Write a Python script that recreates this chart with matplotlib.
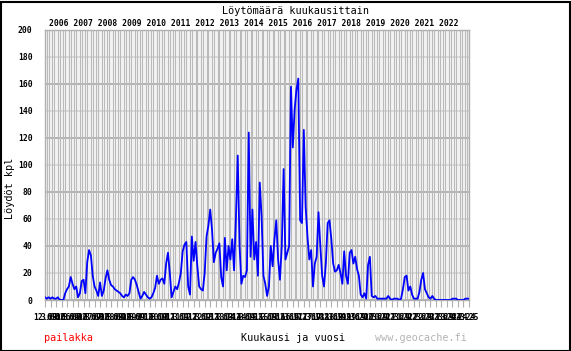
import numpy as np
import matplotlib
matplotlib.use("Agg")
import matplotlib.pyplot as plt
from matplotlib.patches import Rectangle

# monthly finds, Dec 2005 .. Mar 2025
values = [2,
    1, 2, 1, 2, 1, 1, 2, 0, 0, 0, 5, 8,            # 2006
    10, 17, 12, 8, 10, 2, 5, 14, 15, 5, 28, 37,    # 2007
    33, 18, 10, 7, 3, 13, 3, 7, 16, 22, 15, 11,    # 2008
    10, 8, 7, 6, 5, 3, 2, 4, 3, 5, 15, 17,         # 2009
    15, 11, 6, 1, 3, 6, 4, 2, 1, 2, 5, 9,          # 2010
    18, 12, 15, 16, 12, 27, 35, 20, 2, 6, 10, 8,   # 2011
    13, 20, 36, 41, 43, 10, 4, 47, 29, 43, 25, 10, # 2012
    8, 7, 20, 47, 55, 67, 52, 28, 35, 38, 42, 17,  # 2013
    10, 46, 22, 40, 30, 45, 22, 60, 107, 40, 12, 18,   # 2014
    17, 22, 124, 32, 67, 30, 43, 18, 87, 62, 18, 12,   # 2015
    3, 10, 40, 25, 45, 59, 30, 15, 40, 97, 30, 35,     # 2016
    40, 158, 113, 141, 156, 164, 59, 57, 126, 69, 47, 30,  # 2017
    37, 10, 27, 32, 65, 40, 18, 10, 27, 57, 59, 45,    # 2018
    27, 21, 22, 26, 20, 12, 36, 18, 12, 35, 37, 27,    # 2019
    32, 23, 18, 4, 2, 5, 1, 26, 32, 3, 2, 3,           # 2020
    1, 1, 1, 1, 1, 1, 3, 1, 0, 1, 1, 1,                # 2021
    0, 1, 8, 17, 18, 7, 10, 4, 1, 1, 1, 6,             # 2022
    15, 20, 8, 5, 2, 1, 3, 1, 0, 0, 0, 0,              # 2023
    0, 0, 0, 0, 0, 1, 1, 1, 0, 0, 0, 0,                # 2024
    1, 1, 1]                                           # 2025

start_month, start_year = 12, 2005
years_top = list(range(2006, 2023))
y_ticks = list(range(0, 201, 20))

n = len(values)
month_labels = []
for i in range(n):
    m = (start_month - 1 + i) % 12 + 1
    y = start_year + (start_month - 1 + i) // 12
    month_labels.append(f"{m}.{y % 100:02d}")

mono = "DejaVu Sans Mono"
W, H = 571, 351
fig = plt.figure(figsize=(W / 100, H / 100), dpi=100)
fig.patch.set_facecolor("white")
fig.add_artist(Rectangle((0.5 / W, 0.5 / H), 1 - 2 / W, 1 - 2 / H,
                         transform=fig.transFigure, fill=False,
                         edgecolor="black", linewidth=1.5))

ax = fig.add_axes([45 / W, (H - 300) / H, 424 / W, 270 / H])
ax.set_facecolor("#f2f2f2")

x = np.arange(n)
ax.set_xlim(0, n - 1)
ax.set_ylim(0, 200)

# vertical month grid
ax.set_xticks(x, minor=True)
ax.grid(which="minor", axis="x", color="#bababa", linewidth=0.75)
ax.tick_params(which="minor", length=0)

# horizontal grid, darker every 40
for v in y_ticks:
    ax.axhline(v, color="#a8a8a8" if v % 40 == 0 else "#d4d4d4",
               linewidth=1.2, zorder=1.5)

ax.plot(x, values, color="#0000ff", linewidth=1.3, zorder=3)

major = x[::3]
ax.set_xticks(major)
ax.set_xticklabels([month_labels[i] for i in major], fontfamily=mono,
                   fontsize=5.8, fontweight="bold")
ax.tick_params(axis="x", which="major", length=5, color="#b0b0b0", pad=4)

ax.set_yticks(y_ticks)
ax.set_yticklabels([str(v) for v in y_ticks], fontfamily=mono,
                   fontsize=5.8, fontweight="bold")
ax.tick_params(axis="y", length=0, pad=9)

for s in ax.spines.values():
    s.set_color("#b0b0b0")
    s.set_linewidth(1)

fig.text(295 / W, 1 - 11 / H, "Löytömäärä kuukausittain", fontfamily=mono,
         fontsize=7.3, ha="center", va="center")
fig.text(254 / W, 1 - 24 / H, " ".join(str(yv) for yv in years_top),
         fontfamily=mono, fontsize=5.8, fontweight="bold",
         ha="center", va="center")
fig.text(10 / W, 1 - 188 / H, "Löydöt kpl", fontfamily=mono, fontsize=7.3,
         rotation=90, ha="center", va="center")
fig.text(44 / W, 1 - 338 / H, "pailakka", fontfamily=mono, fontsize=7.3,
         color="#ff0000", ha="left", va="center")
fig.text(293 / W, 1 - 338 / H, "Kuukausi ja vuosi", fontfamily=mono,
         fontsize=7.3, ha="center", va="center")
fig.text(467 / W, 1 - 338 / H, "www.geocache.fi", fontfamily=mono,
         fontsize=7.3, color="#b4b4b4", ha="right", va="center")

fig.savefig("out.png", dpi=100)
